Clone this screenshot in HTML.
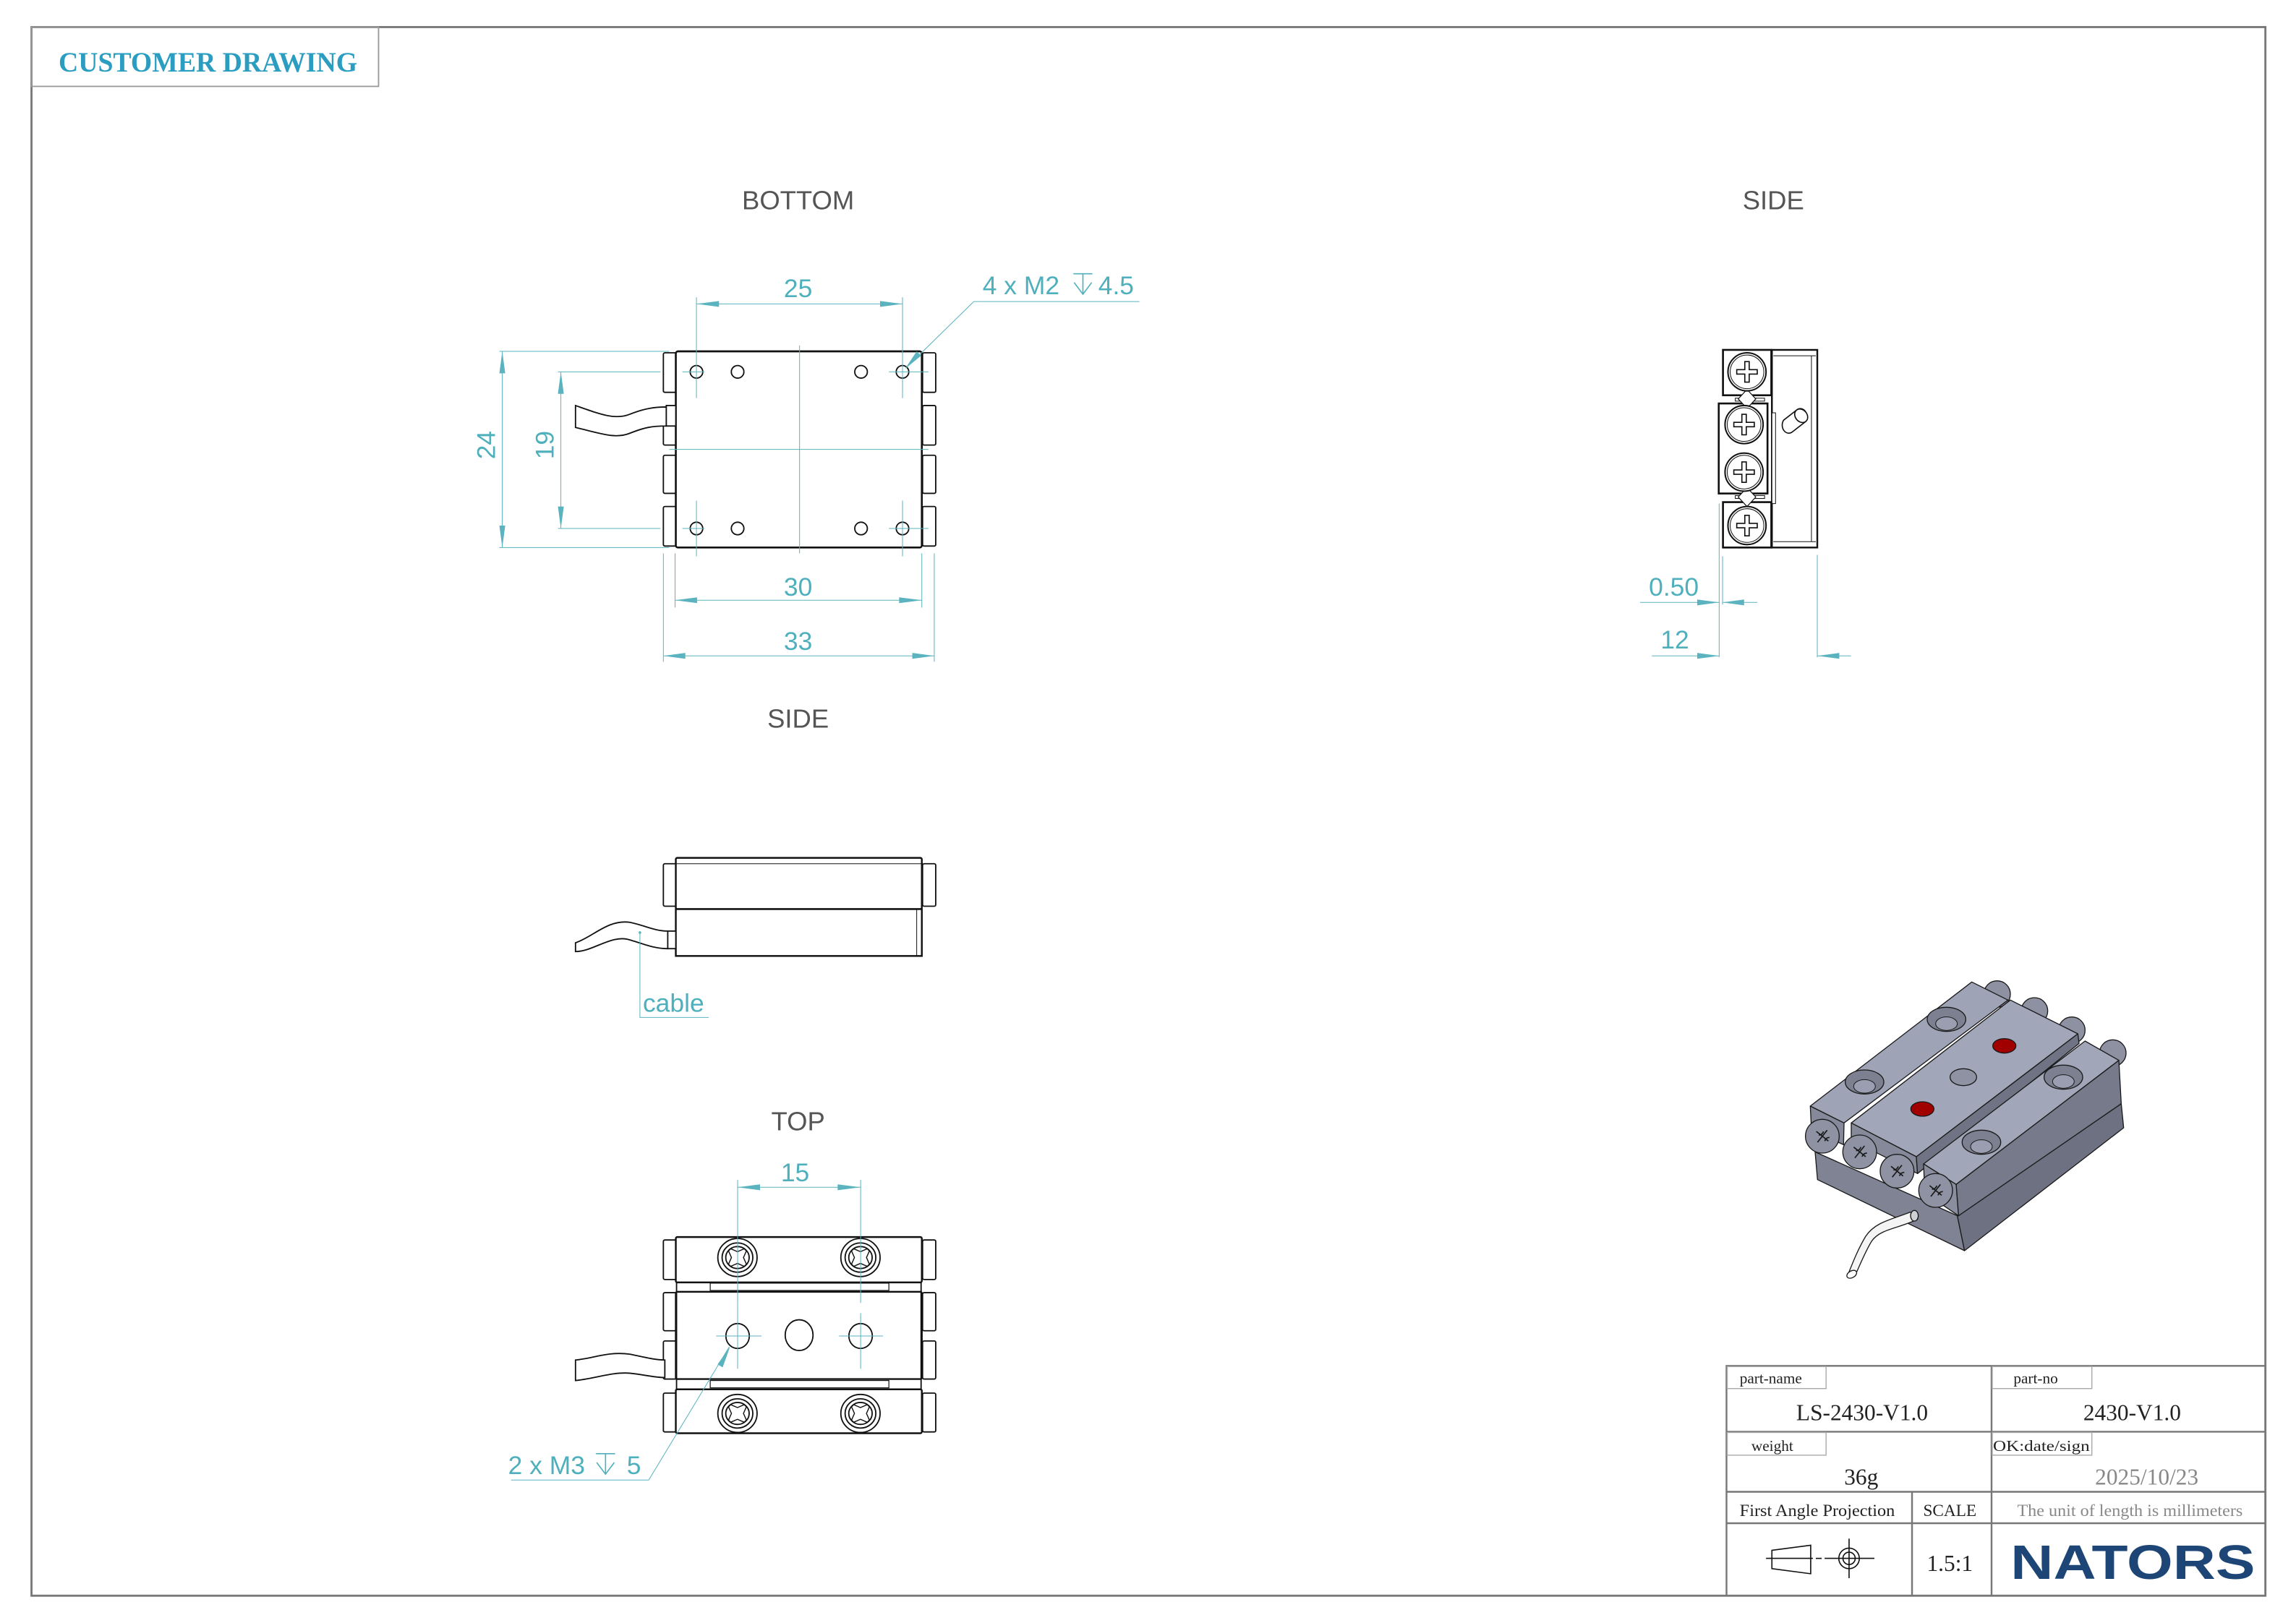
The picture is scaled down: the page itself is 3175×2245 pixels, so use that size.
<!DOCTYPE html>
<html><head><meta charset="utf-8"><style>
html,body{margin:0;padding:0;background:#fff}
svg{display:block}
text{font-family:"Liberation Sans",sans-serif}
.s{font-family:"Liberation Serif",serif}
</style></head><body>
<svg width="3175" height="2245" viewBox="0 0 3175 2245" xmlns="http://www.w3.org/2000/svg">
<g transform="scale(2.025)">
<rect x="21.5" y="18.5" width="1525.5" height="1071.5" fill="none" stroke="#777" stroke-width="1.4"/>
<rect x="21.5" y="18.5" width="237" height="40.5" fill="none" stroke="#999" stroke-width="0.9"/>
<text x="40" y="49" class="s" font-weight="bold" font-size="19.5" fill="#2a9dc0" textLength="204" lengthAdjust="spacingAndGlyphs">CUSTOMER DRAWING</text>

<g fill="#555" font-size="18" text-anchor="middle">
<text x="545" y="143">BOTTOM</text>
<text x="1211" y="143">SIDE</text>
<text x="545" y="497">SIDE</text>
<text x="545" y="772">TOP</text>
</g>

<g fill="#fff" stroke="#111" stroke-width="0.9">
<rect x="453" y="241" width="9" height="27" rx="1"/>
<rect x="453" y="289" width="9" height="15" rx="1"/>
<rect x="453" y="311" width="9" height="26" rx="1"/>
<rect x="453" y="346" width="9" height="27" rx="1"/>
<rect x="630" y="241" width="9" height="27" rx="1"/>
<rect x="630" y="277" width="9" height="27" rx="1"/>
<rect x="630" y="311" width="9" height="26" rx="1"/>
<rect x="630" y="346" width="9" height="27" rx="1"/>
<rect x="461.5" y="240" width="168" height="134" rx="1.5" stroke-width="1.3"/>
<path d="M393,277 C410,283 420,287 430,283 C440,279 447,278 455,278 L455,291 C445,291 440,292 430,296 C420,300 410,296 393,292 Z"/>
<rect x="455" y="277" width="6.5" height="14"/>
<circle cx="475.6" cy="254" r="4.3"/><circle cx="503.7" cy="254" r="4.3"/>
<circle cx="588" cy="254" r="4.3"/><circle cx="616.3" cy="254" r="4.3"/>
<circle cx="475.6" cy="361" r="4.3"/><circle cx="503.7" cy="361" r="4.3"/>
<circle cx="588" cy="361" r="4.3"/><circle cx="616.3" cy="361" r="4.3"/>
</g>
<g stroke="#5ab3bf" stroke-width="0.5" fill="none">
<line x1="546" y1="236" x2="546" y2="378"/>
<line x1="457" y1="307" x2="634" y2="307"/>
<line x1="475.6" y1="203" x2="475.6" y2="272"/><line x1="616.3" y1="203" x2="616.3" y2="272"/>
<line x1="475.6" y1="342" x2="475.6" y2="380"/><line x1="616.3" y1="342" x2="616.3" y2="380"/>
<line x1="475.6" y1="207.6" x2="616.3" y2="207.6"/>
<line x1="461" y1="378" x2="461" y2="415"/><line x1="629.5" y1="378" x2="629.5" y2="415"/>
<line x1="461" y1="410" x2="629.5" y2="410"/>
<line x1="453" y1="378" x2="453" y2="452"/><line x1="638" y1="378" x2="638" y2="452"/>
<line x1="453" y1="448" x2="638" y2="448"/>
<line x1="341" y1="240" x2="457" y2="240"/><line x1="341" y1="374" x2="457" y2="374"/>
<line x1="343" y1="240" x2="343" y2="374"/>
<line x1="381" y1="254" x2="451" y2="254"/><line x1="381" y1="361" x2="451" y2="361"/>
<line x1="383" y1="254" x2="383" y2="361"/>
<line x1="466" y1="254" x2="481" y2="254"/><line x1="607" y1="254" x2="634" y2="254"/>
<line x1="466" y1="361" x2="481" y2="361"/><line x1="607" y1="361" x2="634" y2="361"/>
<polyline points="778,206 665,206 619,251"/>
</g>
<g fill="#5ab3bf">
<polygon points="475.6,207.6 491,205.6 491,209.6"/><polygon points="616.3,207.6 601,205.6 601,209.6"/>
<polygon points="461,410 476,408 476,412"/><polygon points="629.5,410 614,408 614,412"/>
<polygon points="453,448 468,446 468,450"/><polygon points="638,448 623,446 623,450"/>
<polygon points="343,240 341,255 345,255"/><polygon points="343,374 341,359 345,359"/>
<polygon points="383,254 381,269 385,269"/><polygon points="383,361 381,346 385,346"/>
<polygon points="618,252 626,240 629,243"/>
</g>
<g fill="#4fb0bd" font-size="17.5" text-anchor="middle">
<text x="545" y="203">25</text>
<text x="545" y="407">30</text>
<text x="545" y="444">33</text>
<text transform="translate(338,304) rotate(-90)">24</text>
<text transform="translate(378,304) rotate(-90)">19</text>
</g>
<text x="671" y="201" font-size="17.5" fill="#4fb0bd">4 x M2</text>
<text x="750" y="201" font-size="17.5" fill="#4fb0bd">4.5</text>
<g stroke="#4fb0bd" stroke-width="0.8" fill="none"><line x1="733" y1="187" x2="746" y2="187"/><line x1="739.5" y1="187" x2="739.5" y2="201"/><polyline points="733.5,193 739.5,201 745.5,193"/></g>

<g fill="#fff" stroke="#111" stroke-width="0.9">
<rect x="453" y="590" width="9" height="29" rx="1"/>
<rect x="630" y="590" width="9" height="29" rx="1"/>
<rect x="461.5" y="586" width="168" height="35" rx="1" stroke-width="1.2"/>
<line x1="462" y1="590" x2="629" y2="590" stroke-width="0.5"/>
<rect x="461.5" y="621" width="168" height="32" stroke-width="1.2"/>
<line x1="626" y1="621" x2="626" y2="653" stroke-width="0.5"/>
<path d="M393,644 C405,640 415,628 430,630 C440,632 447,636 456,636 L456,648 C447,648 440,645 430,642 C418,638 405,650 393,650 Z"/>
<rect x="456" y="636" width="5.5" height="12"/>
</g>
<circle cx="437" cy="637" r="0.9" fill="#5ab3bf"/>
<polyline points="437,637 437,695 484,695" fill="none" stroke="#5ab3bf" stroke-width="0.5"/>
<text x="439" y="691" font-size="17.5" fill="#4fb0bd">cable</text>

<g fill="#fff" stroke="#111" stroke-width="0.9">
<rect x="453" y="847" width="9" height="27" rx="1"/>
<rect x="453" y="883" width="9" height="26" rx="1"/>
<rect x="453" y="916" width="9" height="26" rx="1"/>
<rect x="453" y="951.6" width="9" height="26.5" rx="1"/>
<rect x="630" y="847" width="9" height="27" rx="1"/>
<rect x="630" y="883" width="9" height="26" rx="1"/>
<rect x="630" y="916" width="9" height="26" rx="1"/>
<rect x="630" y="951.6" width="9" height="26.5" rx="1"/>
<rect x="461.5" y="845" width="168" height="31" rx="1" stroke-width="1.2"/>
<rect x="461.5" y="882.4" width="168" height="59.6" rx="1" stroke-width="1.2"/>
<rect x="461.5" y="949" width="168" height="30" rx="1" stroke-width="1.2"/>
<line x1="462" y1="876" x2="462" y2="949"/><line x1="629" y1="876" x2="629" y2="949"/>
<rect x="485" y="876.5" width="122" height="5" stroke-width="0.6"/>
<rect x="485" y="943" width="122" height="5" stroke-width="0.6"/>
<path d="M393,929 C405,928 415,923 430,925 C440,927 447,929 454,929 L454,941 C447,941 440,939 430,938 C418,937 405,942 393,943 Z"/>
<g>
<ellipse cx="503.6" cy="859" rx="13.4" ry="13"/><ellipse cx="503.6" cy="859" rx="10.5" ry="10"/><ellipse cx="503.6" cy="859" rx="8" ry="7.5"/>
<ellipse cx="587.6" cy="859" rx="13.4" ry="13"/><ellipse cx="587.6" cy="859" rx="10.5" ry="10"/><ellipse cx="587.6" cy="859" rx="8" ry="7.5"/>
<ellipse cx="503.6" cy="965.5" rx="13.4" ry="13"/><ellipse cx="503.6" cy="965.5" rx="10.5" ry="10"/><ellipse cx="503.6" cy="965.5" rx="8" ry="7.5"/>
<ellipse cx="587.6" cy="965.5" rx="13.4" ry="13"/><ellipse cx="587.6" cy="965.5" rx="10.5" ry="10"/><ellipse cx="587.6" cy="965.5" rx="8" ry="7.5"/>
</g>
<g stroke-width="0.7">
<path d="M499,855 l4.6,2 l4.6,-2 l1.5,1.5 l-2,4.5 l2,4.5 l-1.5,1.5 l-4.6,-2 l-4.6,2 l-1.5,-1.5 l2,-4.5 l-2,-4.5 z" transform="translate(0,-2)"/>
<path d="M583,855 l4.6,2 l4.6,-2 l1.5,1.5 l-2,4.5 l2,4.5 l-1.5,1.5 l-4.6,-2 l-4.6,2 l-1.5,-1.5 l2,-4.5 l-2,-4.5 z" transform="translate(0,-2)"/>
<path d="M499,961.5 l4.6,2 l4.6,-2 l1.5,1.5 l-2,4.5 l2,4.5 l-1.5,1.5 l-4.6,-2 l-4.6,2 l-1.5,-1.5 l2,-4.5 l-2,-4.5 z" transform="translate(0,-2)"/>
<path d="M583,961.5 l4.6,2 l4.6,-2 l1.5,1.5 l-2,4.5 l2,4.5 l-1.5,1.5 l-4.6,-2 l-4.6,2 l-1.5,-1.5 l2,-4.5 l-2,-4.5 z" transform="translate(0,-2)"/>
</g>
<ellipse cx="503.7" cy="912.6" rx="8" ry="8.5"/>
<ellipse cx="545.7" cy="912" rx="9.5" ry="10.5"/>
<ellipse cx="587.7" cy="912.6" rx="8" ry="8.5"/>
</g>
<g stroke="#5ab3bf" stroke-width="0.5" fill="none">
<line x1="503.7" y1="806" x2="503.7" y2="890"/><line x1="587.7" y1="806" x2="587.7" y2="890"/>
<line x1="503.7" y1="890" x2="503.7" y2="935"/><line x1="587.7" y1="897" x2="587.7" y2="935"/>
<line x1="489" y1="912.6" x2="520" y2="912.6"/><line x1="573" y1="912.6" x2="603" y2="912.6"/>
<line x1="503.7" y1="811" x2="587.7" y2="811"/>
<polyline points="349,1011 443,1011 498,920"/>
</g>
<g fill="#5ab3bf">
<polygon points="503.7,811 519,809 519,813"/><polygon points="587.7,811 572,809 572,813"/>
<polygon points="498.5,920 490,932 493.5,934"/>
</g>
<text x="543" y="807" font-size="17.5" fill="#4fb0bd" text-anchor="middle">15</text>
<text x="347" y="1007" font-size="17.5" fill="#4fb0bd">2 x M3</text>
<text x="428" y="1007" font-size="17.5" fill="#4fb0bd">5</text>
<g stroke="#4fb0bd" stroke-width="0.8" fill="none"><line x1="407" y1="993" x2="420" y2="993"/><line x1="413.5" y1="993" x2="413.5" y2="1007"/><polyline points="407.5,999 413.5,1007 419.5,999"/></g>

<g fill="#fff" stroke="#111" stroke-width="1">
<rect x="1210" y="239" width="31" height="135" stroke-width="1.2"/>
<line x1="1211" y1="243" x2="1240" y2="243" stroke-width="0.5"/>
<line x1="1211" y1="370" x2="1240" y2="370" stroke-width="0.5"/>
<line x1="1237" y1="243" x2="1237" y2="370" stroke-width="0.5"/>
<rect x="1210" y="282" width="2.5" height="62" stroke-width="0.5"/>
<rect x="1176.6" y="239" width="33" height="31" stroke-width="1.3"/>
<rect x="1173.7" y="275.6" width="33.3" height="61.5" stroke-width="1.3"/>
<rect x="1176.6" y="343" width="33" height="31" stroke-width="1.3"/>
<rect x="1185" y="272" width="20" height="2" stroke-width="0.5"/>
<rect x="1185" y="338.5" width="20" height="2" stroke-width="0.5"/>
<polygon points="1193,266 1199,272.5 1193,279 1187,272.5" stroke-width="0.6"/>
<polygon points="1193,333 1199,339.5 1193,346 1187,339.5" stroke-width="0.6"/>
<circle cx="1193" cy="254" r="13"/><circle cx="1193" cy="254" r="11.5" stroke-width="0.5"/>
<circle cx="1191" cy="290" r="13"/><circle cx="1191" cy="290" r="11.5" stroke-width="0.5"/>
<circle cx="1191" cy="322.5" r="13"/><circle cx="1191" cy="322.5" r="11.5" stroke-width="0.5"/>
<circle cx="1193" cy="359" r="13"/><circle cx="1193" cy="359" r="11.5" stroke-width="0.5"/>
<g stroke-width="0.8">
<path d="M1191.5,247 h3 v5.5 h5.5 v3 h-5.5 v5.5 h-3 v-5.5 h-5.5 v-3 h5.5 z"/>
<path d="M1189.5,283 h3 v5.5 h5.5 v3 h-5.5 v5.5 h-3 v-5.5 h-5.5 v-3 h5.5 z"/>
<path d="M1189.5,315.5 h3 v5.5 h5.5 v3 h-5.5 v5.5 h-3 v-5.5 h-5.5 v-3 h5.5 z"/>
<path d="M1191.5,352 h3 v5.5 h5.5 v3 h-5.5 v5.5 h-3 v-5.5 h-5.5 v-3 h5.5 z"/>
</g>
<path d="M1218,287 L1227,280 A4.5,5.5 0 0 1 1233,288 L1224,295 A4.5,5.5 0 0 1 1218,287 Z" stroke-width="0.8"/>
<ellipse cx="1230" cy="284" rx="4" ry="5" transform="rotate(-40 1230 284)" stroke-width="0.8"/>
</g>
<g stroke="#5ab3bf" stroke-width="0.5" fill="none">
<line x1="1174" y1="344" x2="1174" y2="449"/>
<line x1="1176.3" y1="380" x2="1176.3" y2="413"/>
<line x1="1241" y1="379" x2="1241" y2="449"/>
<line x1="1120" y1="411.5" x2="1174" y2="411.5"/><line x1="1176.3" y1="411.5" x2="1200" y2="411.5"/>
<line x1="1128" y1="448" x2="1174" y2="448"/><line x1="1241" y1="448" x2="1264" y2="448"/>
</g>
<g fill="#5ab3bf">
<polygon points="1174,411.5 1159,409.5 1159,413.5"/><polygon points="1176.3,411.5 1191,409.5 1191,413.5"/>
<polygon points="1174,448 1159,446 1159,450"/><polygon points="1241,448 1256,446 1256,450"/>
</g>
<text x="1126" y="407" font-size="17.5" fill="#4fb0bd">0.50</text>
<text x="1134" y="443" font-size="17.5" fill="#4fb0bd">12</text>

<g fill="none" stroke="#777" stroke-width="1.2">
<rect x="1179" y="933" width="368" height="157"/>
<line x1="1179" y1="978" x2="1547" y2="978"/>
<line x1="1179" y1="1019" x2="1547" y2="1019"/>
<line x1="1179" y1="1040.5" x2="1547" y2="1040.5"/>
<line x1="1360" y1="933" x2="1360" y2="1090"/>
<line x1="1305.7" y1="1019" x2="1305.7" y2="1090"/>
</g>
<g fill="none" stroke="#aaa" stroke-width="0.7">
<rect x="1179.5" y="933.5" width="67.5" height="15"/>
<rect x="1360.5" y="933.5" width="68" height="15"/>
<rect x="1179.5" y="978.5" width="67.5" height="15.5"/>
<rect x="1360.5" y="978.5" width="68" height="15.5"/>
</g>
<g class="s" fill="#222">
<text x="1188" y="945" font-size="10.5" class="s">part-name</text>
<text x="1375" y="945" font-size="10.5" class="s">part-no</text>
<text x="1196" y="991" font-size="10.5" class="s">weight</text>
<text x="1361" y="991" font-size="10.5" class="s" textLength="66" lengthAdjust="spacingAndGlyphs">OK:date/sign</text>
<text x="1271.6" y="970" font-size="15.5" class="s" text-anchor="middle">LS-2430-V1.0</text>
<text x="1456" y="970" font-size="15.5" class="s" text-anchor="middle">2430-V1.0</text>
<text x="1271" y="1014" font-size="15.5" class="s" text-anchor="middle">36g</text>
<text x="1466" y="1014" font-size="15.5" class="s" text-anchor="middle" fill="#888">2025/10/23</text>
<text x="1241" y="1035.5" font-size="11.5" class="s" text-anchor="middle" textLength="106" lengthAdjust="spacingAndGlyphs">First Angle Projection</text>
<text x="1331.5" y="1035.5" font-size="11.5" class="s" text-anchor="middle">SCALE</text>
<text x="1454.5" y="1035.5" font-size="11.5" class="s" text-anchor="middle" fill="#888" textLength="154" lengthAdjust="spacingAndGlyphs">The unit of length is millimeters</text>
<text x="1331.5" y="1073" font-size="15.5" class="s" text-anchor="middle">1.5:1</text>
</g>
<text x="1373" y="1078.5" font-size="33" font-weight="bold" fill="#1d4676" textLength="167" lengthAdjust="spacingAndGlyphs">NATORS</text>
<g fill="none" stroke="#111" stroke-width="0.8">
<polygon points="1210,1059 1236.5,1055.5 1236.5,1075 1210,1071.5"/>
<line x1="1206" y1="1064.5" x2="1238" y2="1064.5"/>
<line x1="1240" y1="1064.5" x2="1244" y2="1064.5"/>
<line x1="1246" y1="1064.5" x2="1280" y2="1064.5"/>
<line x1="1262.7" y1="1051" x2="1262.7" y2="1078"/>
<circle cx="1262.7" cy="1064.5" r="7"/>
<circle cx="1262.7" cy="1064.5" r="4.2"/>
</g>
</g>

<g transform="translate(2460,1330) scale(0.33333)" stroke="#1a1a1a" stroke-width="4" stroke-linejoin="round">
<circle cx="905" cy="135" r="55" fill="#8d91a2"/>
<circle cx="1060" cy="205" r="55" fill="#8d91a2"/>
<circle cx="1215" cy="285" r="55" fill="#8d91a2"/>
<circle cx="1385" cy="380" r="55" fill="#8d91a2"/>
<polygon points="150,790 740,1055 770,1200 160,905" fill="#7f8393"/>
<polygon points="740,1055 1420,590 1430,690 770,1200" fill="#6d7181"/>
<polygon points="735,925 1410,410 1420,590 745,1055" fill="#767a8a"/>
<polygon points="130,600 800,85 950,160 270,670" fill="#9ea3b6"/>
<polygon points="130,600 270,670 268,760 135,700" fill="#858999"/>
<polygon points="300,670 960,160 1240,300 570,810" fill="#a1a6b8"/>
<polygon points="300,670 570,810 575,880 300,740" fill="#858999"/>
<polygon points="570,810 1240,300 1245,340 575,880" fill="#6f7384"/>
<polygon points="600,840 1270,330 1410,410 735,925" fill="#a1a6b8"/>
<polygon points="600,840 735,925 745,1055 605,960" fill="#8a8e9e"/>
<ellipse cx="695" cy="240" rx="80" ry="50" fill="#7c8091"/>
<ellipse cx="355" cy="500" rx="80" ry="50" fill="#7c8091"/>
<ellipse cx="1180" cy="480" rx="80" ry="50" fill="#7c8091"/>
<ellipse cx="840" cy="750" rx="80" ry="50" fill="#7c8091"/>
<ellipse cx="695" cy="258" rx="45" ry="28" fill="#9a9eb0" stroke-width="3"/>
<ellipse cx="355" cy="518" rx="45" ry="28" fill="#9a9eb0" stroke-width="3"/>
<ellipse cx="1180" cy="498" rx="45" ry="28" fill="#9a9eb0" stroke-width="3"/>
<ellipse cx="840" cy="768" rx="45" ry="28" fill="#9a9eb0" stroke-width="3"/>
<ellipse cx="935" cy="350" rx="48" ry="30" fill="#a00000"/>
<ellipse cx="595" cy="612" rx="48" ry="30" fill="#a00000"/>
<ellipse cx="765" cy="480" rx="55" ry="35" fill="#8e92a2"/>
<circle cx="180" cy="725" r="70" fill="#8e92a3"/>
<circle cx="335" cy="790" r="70" fill="#8e92a3"/>
<circle cx="490" cy="870" r="70" fill="#8e92a3"/>
<circle cx="650" cy="950" r="70" fill="#8e92a3"/>
<g fill="none" stroke-width="5">
<path d="M155,705 l50,40 M200,700 l-40,50 M165,720 q15,0 20,-15 M190,745 q5,-15 20,-15"/>
<path d="M310,770 l50,40 M355,765 l-40,50 M320,785 q15,0 20,-15 M345,810 q5,-15 20,-15"/>
<path d="M465,850 l50,40 M510,845 l-40,50 M475,865 q15,0 20,-15 M500,890 q5,-15 20,-15"/>
<path d="M625,930 l50,40 M670,925 l-40,50 M635,945 q15,0 20,-15 M660,970 q5,-15 20,-15"/>
</g>
<path d="M545,1040 C470,1070 400,1080 360,1140 C330,1190 310,1240 290,1290 L315,1305 C340,1250 360,1200 385,1160 C420,1110 490,1110 575,1070 Z" fill="#f4f4f4"/>
<ellipse cx="302" cy="1298" rx="22" ry="14" fill="#fff" transform="rotate(-30 302 1298)"/>
<ellipse cx="562" cy="1055" rx="16" ry="22" fill="#cfd0d6"/>
</g>
</svg>
</body></html>
